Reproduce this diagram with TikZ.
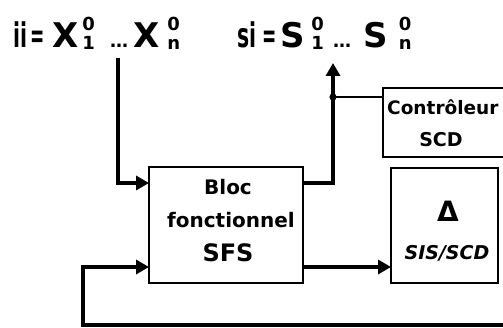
\documentclass[tikz,border=0pt]{standalone}
\usepackage{fontspec}
\usepackage{graphicx}
\setmainfont{DejaVu Sans}
\usetikzlibrary{arrows.meta,calc}
\newcommand\supsub[3]{\makebox[#1][c]{\fontsize{18}{18}\selectfont\makebox[0pt][c]{\raisebox{17pt}{#2}}\makebox[0pt][c]{\raisebox{-2pt}{#3}}}}
\newcommand\hsq[2]{\scalebox{#1}[1]{#2}}
\tikzset{
  box/.style={draw, line width=2.8pt, inner sep=0pt, outer sep=0pt},
  arr/.style={line width=3.3pt, line join=miter, -{Triangle[length=13pt,width=14pt]}},
  thinconn/.style={line width=2pt},
  lbl/.style={font=\fontsize{34}{34}\selectfont\bfseries, inner sep=0pt, anchor=base west},
  txt/.style={font=\fontsize{20}{20}\selectfont\bfseries, inner sep=0pt, anchor=base},
}
\begin{document}
\begin{tikzpicture}[x=1pt,y=-1pt]
\begin{scope}
\clip (0,0) rectangle (503,328);
\fill[white] (0,0) rectangle (503,328);
% labels
\node[lbl] (ilab) at (13,48) {\makebox[17pt][l]{\hsq{0.6}{ii}}\makebox[22pt][l]{\hsq{0.5}{=}}\makebox[31pt][l]{X}\supsub{11pt}{0}{1}\hspace{16pt}\makebox[23pt][l]{\fontsize{18}{18}\selectfont …}\makebox[29pt][l]{X}\supsub{23pt}{0}{n}};
\node[lbl] (slab) at (237,48) {\makebox[25pt][l]{\hsq{0.6}{si}}\makebox[18pt][l]{\hsq{0.5}{=}}\makebox[32pt][l]{S}\supsub{11pt}{0}{1}\hspace{10pt}\makebox[30pt][l]{\fontsize{18}{18}\selectfont …}\makebox[36pt][l]{S}\supsub{12pt}{0}{n}};
% boxes
\node[box, minimum width=154pt, minimum height=116pt] (bloc) at (226,225) {};
\node[box, minimum width=107pt, minimum height=115pt] (delta) at (444.5,225.5) {};
\node[box, minimum width=137pt, minimum height=69pt] (ctrl) at (451.5,122.5) {};
% box texts
\node[txt] (t1) at (228,195) {Bloc};
\node[txt] (t2) at (231,228) {fonctionnel};
\node[txt, font=\fontsize{24}{24}\selectfont\bfseries] (t3) at (228,262) {SFS};
\node[txt, font=\fontsize{28}{28}\selectfont\bfseries] (t4) at (448,222) {Δ};
\node[txt, font=\fontsize{19}{19}\selectfont\bfseries\itshape] (t5) at (447,260) {SIS/SCD};
\node[txt, anchor=base west, font=\fontsize{18.5}{18.5}\selectfont\bfseries] (t6) at (387,115) {Contrôleur};
\node[txt, font=\fontsize{19}{19}\selectfont\bfseries] (t7) at (441,147) {SCD};
% connectors
\coordinate (itop) at (118,58);
\coordinate (otip) at (333,63);
\coordinate (j) at (333,97);
\coordinate (fbR) at (510,325);
\coordinate (fbL) at (83,267);
\draw[arr] (itop) |- ($(bloc.north west)+(0,16)$);
\draw[arr] ($(bloc.north east)+(0,16)$) -| (otip);
\fill (j) circle (3.6pt);
\draw[thinconn] (j) -- (ctrl.west |- j);
\draw[arr] ($(bloc.south east)+(0,-16)$) -- (delta.west |- fbL);
\draw[arr] (fbR) -| (fbL) -- ($(bloc.south west)+(0,-16)$);
\end{scope}
\pgfresetboundingbox
\useasboundingbox (0,0) rectangle (503,328);
\end{tikzpicture}
\end{document}
